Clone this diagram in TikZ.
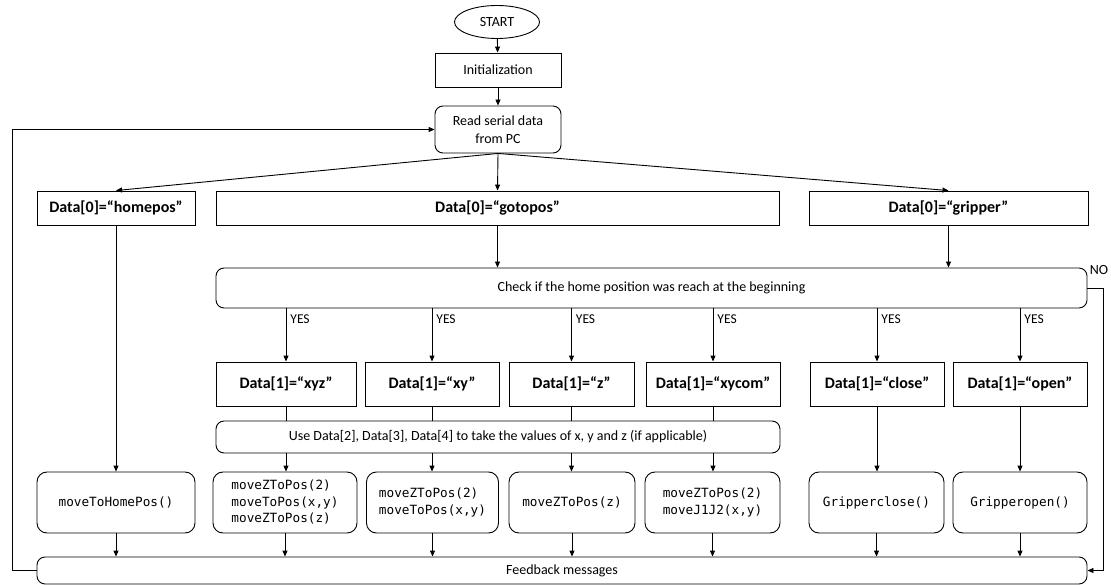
\documentclass[tikz,border=0pt]{standalone}
\usepackage{fontspec}
\setmainfont{Carlito}
\setmonofont{DejaVu Sans Mono}
\usetikzlibrary{arrows.meta,shapes.geometric}

\tikzset{
  every node/.style={font=\fontsize{14}{17.5}\selectfont, inner sep=0pt, align=center},
  flow/.style={draw=black, line width=0.9pt, fill=white},
  plainbox/.style={flow, rectangle},
  roundbox/.style={flow, rectangle, rounded corners=8pt},
  codebox/.style={flow, rectangle, rounded corners=10pt,
    font=\ttfamily\fontsize{12.7}{16.5}\selectfont, align=left},
  caselbl/.style={font=\bfseries\fontsize{16}{19}\selectfont},
  yesno/.style={font=\fontsize{13.5}{16}\selectfont},
  link/.style={line width=0.9pt, draw=black},
  arrow/.style={link, -{Triangle[length=6pt,width=5pt]}}
}

\begin{document}
\begin{tikzpicture}[x=1pt, y=-1pt]
  \useasboundingbox[fill=white] (0,0) rectangle (1111,585);

  % start and set-up
  \node[flow, ellipse, minimum width=85pt, minimum height=33pt] (start) at (497,22) {START};
  \node[plainbox, minimum width=126pt, minimum height=34pt] (init) at (498,70) {Initialization};
  \node[roundbox, minimum width=126pt, minimum height=47pt] (read) at (498,129.5) {Read serial data\\from PC};

  % first command byte
  \node[plainbox, caselbl, minimum width=158pt, minimum height=34pt] (home0) at (116,208) {Data[0]=“homepos”};
  \node[plainbox, caselbl, minimum width=563pt, minimum height=34pt] (goto0) at (497.5,208) {Data[0]=“gotopos”};
  \node[plainbox, caselbl, minimum width=279pt, minimum height=34pt] (grip0) at (948.5,208) {Data[0]=“gripper”};

  % home position check
  \node[roundbox, minimum width=871pt, minimum height=40pt] (check) at (651.5,288)
    {Check if the home position was reach at the beginning};

  % second command byte
  \node[plainbox, caselbl, minimum width=140pt, minimum height=44pt] (xyz) at (286,384) {Data[1]=“xyz”};
  \node[plainbox, caselbl, minimum width=134pt, minimum height=44pt] (xy) at (432,384) {Data[1]=“xy”};
  \node[plainbox, caselbl, minimum width=125pt, minimum height=44pt] (z) at (571.5,384) {Data[1]=“z”};
  \node[plainbox, caselbl, minimum width=134pt, minimum height=44pt] (xycom) at (713,384) {Data[1]=“xycom”};
  \node[plainbox, caselbl, minimum width=134pt, minimum height=44pt] (close) at (877,384) {Data[1]=“close”};
  \node[plainbox, caselbl, minimum width=134pt, minimum height=44pt] (open) at (1020,384) {Data[1]=“open”};

  % parameter parsing
  \node[roundbox, minimum width=564pt, minimum height=32pt] (use) at (498,437)
    {Use Data[2], Data[3], Data[4] to take the values of x, y and z (if applicable)};

  % function calls
  \node[codebox, minimum width=158pt, minimum height=61pt] (chome) at (116,502.5) {moveToHomePos()};
  \node[codebox, minimum width=144pt, minimum height=61pt] (cxyz) at (285,502.5)
    {moveZToPos(2)\\moveToPos(x,y)\\moveZToPos(z)};
  \node[codebox, minimum width=132pt, minimum height=61pt] (cxy) at (432.5,502.5)
    {moveZToPos(2)\\moveToPos(x,y)};
  \node[codebox, minimum width=126pt, minimum height=61pt] (cz) at (572,502.5) {moveZToPos(z)};
  \node[codebox, minimum width=135pt, minimum height=61pt] (cxycom) at (712.5,502.5)
    {moveZToPos(2)\\moveJ1J2(x,y)};
  \node[codebox, minimum width=135pt, minimum height=61pt] (cclose) at (876.5,502.5) {Gripperclose()};
  \node[codebox, minimum width=134pt, minimum height=61pt] (copen) at (1020,502.5) {Gripperopen()};

  % feedback
  \node[roundbox, minimum width=1050pt, minimum height=27pt] (feed) at (562,570.5) {Feedback messages};

  % main flow
  \draw[arrow] (start) -- (init);
  \draw[arrow] (init) -- (read);
  \draw[arrow] (read.south) -- (home0.north);
  \draw[arrow] (read.south) -- (goto0.north);
  \draw[arrow] (read.south) -- (grip0.north);
  \draw[arrow] (goto0.south) -- (goto0.south |- check.north);
  \draw[arrow] (grip0.south) -- (grip0.south |- check.north);
  \draw[arrow] (home0) -- (chome);

  % YES branches
  \foreach \n in {xyz,xy,z,xycom,close,open} {
    \draw[arrow] (check.south -| \n.north) -- (\n.north)
      node[pos=0.2, anchor=west, yesno, xshift=4pt] {YES};
  }
  \foreach \n/\c in {xyz/cxyz,xy/cxy,z/cz,xycom/cxycom} {
    \draw[link] (\n.south) -- (\n.south |- use.north);
    \draw[arrow] (\n.south |- use.south) -- (\n.south |- \c.north);
  }
  \draw[arrow] (close) -- (close.south |- cclose.north);
  \draw[arrow] (open) -- (open.south |- copen.north);

  % into the feedback block
  \foreach \c in {chome,cxyz,cxy,cz,cxycom,cclose,copen} {
    \draw[arrow] (\c.south) -- (\c.south |- feed.north);
  }

  % NO branch
  \coordinate (nocorner) at ([xshift=16pt]check.east);
  \draw[arrow] (check.east) -- (nocorner) |- (feed.east);
  \node[font=\fontsize{14}{16}\selectfont] (nolbl) at (1099,270) {NO};

  % loop back to reading
  \coordinate (loopcorner) at ([xshift=-24pt]feed.west);
  \draw[arrow] (feed.west) -- (loopcorner) |- (read.west);
\end{tikzpicture}
\end{document}
